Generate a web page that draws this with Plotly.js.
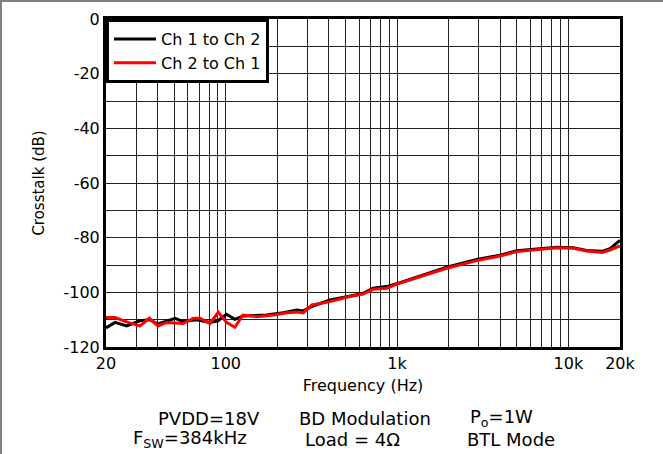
<!DOCTYPE html>
<html>
<head>
<meta charset="utf-8">
<script src="https://cdn.plot.ly/plotly-3.0.1.min.js"></script>
<style>
  html, body { margin: 0; padding: 0; background: #fff; }
  #wrap { position: relative; width: 663px; height: 454px; }
  #chart { width: 663px; height: 454px; }
  #frame { position: absolute; left: 0; top: 0; width: 663px; height: 454px;
           border-top: 2px solid #808080; border-left: 2px solid #808080;
           box-sizing: border-box; pointer-events: none; }
</style>
</head>
<body>
<div id="wrap"><div id="chart"></div><div id="frame"></div></div>
<script>
// Series: Ch 1 to Ch 2 (black)
const freqCh1 = [20, 22.6, 26.4, 31.6, 35.9, 40.2, 50.6, 56.3, 67.7, 80.9, 90, 101, 113, 126, 173, 216, 260, 283, 323, 406, 508, 633, 724, 870, 1040, 1424, 1948, 2918, 3990, 4996, 6834, 8552, 10692, 12794, 15660, 17500, 20000];
const dbCh1 = [-113, -111, -112.3, -110.4, -110, -111.6, -109.5, -110.7, -110, -111, -110.4, -108, -109.9, -108.7, -108.3, -107.5, -106.5, -106.8, -105, -102.8, -101.6, -100.4, -98.5, -97.9, -96.5, -93.6, -90.8, -88, -86.4, -84.8, -84, -83.5, -83.7, -84.7, -85.0, -84, -81];

// Series: Ch 2 to Ch 1 (red)
const freqCh2 = [20, 22.6, 26.9, 31.6, 35.8, 40.2, 45.2, 56.3, 64.7, 70.8, 80.9, 90.5, 101, 113, 126, 152, 190, 227, 260, 283, 318, 406, 508, 633, 724, 870, 996, 1424, 1948, 2918, 3990, 4996, 6834, 8552, 10692, 12794, 15660, 17500, 20000];
const dbCh2 = [-109.2, -109.2, -111, -112.3, -109.5, -112.3, -111, -111.4, -109.5, -109.5, -111.4, -107.3, -111, -112.8, -108.3, -108.9, -108.3, -107.5, -107.2, -107.5, -104.6, -103.4, -101.8, -100.6, -98.9, -98.5, -97, -94, -91.2, -88.4, -86.7, -85.1, -84.2, -83.7, -83.9, -84.9, -85.4, -84.5, -83];

// Axis ticks
const xTickVals = [20, 30, 40, 50, 60, 70, 80, 90, 100, 200, 300, 400, 500, 600, 700, 800, 900, 1000, 2000, 3000, 4000, 5000, 6000, 7000, 8000, 9000, 10000, 20000];
const xTickText = ['20', '', '', '', '', '', '', '', '100', '', '', '', '', '', '', '', '', '1k', '', '', '', '', '', '', '', '', '10k', '20k'];
const yTickVals = [-120, -110, -100, -90, -80, -70, -60, -50, -40, -30, -20, -10, 0];
const yTickText = ['-120', '', '-100', '', '-80', '', '-60', '', '-40', '', '-20', '', '0'];

const FONT = 'DejaVu Sans, Arial, sans-serif';

const traces = [
  { x: freqCh1, y: dbCh1, type: 'scatter', mode: 'lines', name: 'Ch 1 to Ch 2',
    line: { color: '#000000', width: 3 } },
  { x: freqCh2, y: dbCh2, type: 'scatter', mode: 'lines', name: 'Ch 2 to Ch 1',
    line: { color: '#ff0000', width: 3 } }
];

const layout = {
  width: 663, height: 454,
  margin: { l: 106, r: 43, t: 19, b: 107 },
  paper_bgcolor: '#ffffff', plot_bgcolor: '#ffffff',
  font: { family: FONT, size: 16, color: '#000' },
  showlegend: true,
  legend: { x: 0, y: 1, xanchor: 'left', yanchor: 'top',
            bgcolor: '#ffffff', bordercolor: '#000000', borderwidth: 3,
            font: { family: FONT, size: 16, color: '#000' },
            itemwidth: 42, tracegroupgap: 0 },
  xaxis: {
    type: 'log', range: [Math.log10(20), Math.log10(20000)],
    tickmode: 'array', tickvals: xTickVals, ticktext: xTickText,
    ticks: '', showgrid: true, gridcolor: '#222', gridwidth: 1,
    showline: true, mirror: true, linecolor: '#000', linewidth: 3,
    zeroline: false, tickfont: { family: FONT, size: 16 },
    title: { text: 'Frequency (Hz)', font: { family: FONT, size: 16 }, standoff: 8 }
  },
  yaxis: {
    range: [-120, 0],
    tickmode: 'array', tickvals: yTickVals, ticktext: yTickText,
    ticks: '', showgrid: true, gridcolor: '#222', gridwidth: 1,
    showline: true, mirror: true, linecolor: '#000', linewidth: 3,
    zeroline: false, tickfont: { family: FONT, size: 16 },
    title: { text: 'Crosstalk (dB)', font: { family: FONT, size: 15 }, standoff: 16 }
  },
  annotations: [
    { text: 'PVDD=18V', x: 209, y: 418 },
    { text: 'BD Modulation', x: 365, y: 418 },
    { text: 'P<sub>o</sub>=1W', x: 501, y: 418 },
    { text: 'F<sub>SW</sub>=384kHz', x: 190, y: 439 },
    { text: 'Load = 4Ω', x: 352, y: 439 },
    { text: 'BTL Mode', x: 511, y: 439 }
  ].map(a => ({
    text: a.text, showarrow: false,
    xref: 'paper', yref: 'paper',
    x: (a.x - 106) / (620 - 106), y: (347 - a.y) / (347 - 19),
    xanchor: 'center', yanchor: 'middle',
    font: { family: FONT, size: 18, color: '#000' }
  }))
};

Plotly.newPlot('chart', traces, layout, { displayModeBar: false, staticPlot: true });
</script>
</body>
</html>
